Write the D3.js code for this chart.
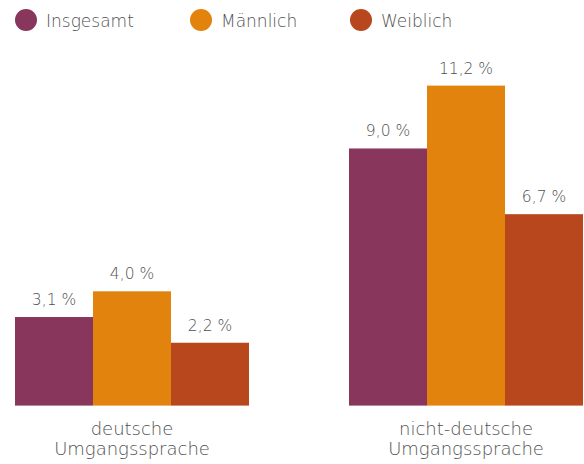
<!DOCTYPE html>
<html>
<head>
<meta charset="utf-8">
<script src="https://cdn.jsdelivr.net/npm/d3@7"></script>
<style>
  html, body { margin: 0; padding: 0; background: #fff; }
  svg text { font-family: "DejaVu Sans", sans-serif; font-weight: 200; }
</style>
</head>
<body>
<svg id="chart" width="584" height="464"></svg>
<script>
const categories = ["deutsche Umgangssprache", "nicht-deutsche Umgangssprache"];
const categoryLines = [["deutsche", "Umgangssprache"], ["nicht-deutsche", "Umgangssprache"]];
const series = ["Insgesamt", "Männlich", "Weiblich"];
const insgesamt = [3.1, 9.0];
const maennlich = [4.0, 11.2];
const weiblich = [2.2, 6.7];
const valueLabels = [["3,1 %", "4,0 %", "2,2 %"], ["9,0 %", "11,2 %", "6,7 %"]];
const colors = ["#88365b", "#e1830c", "#b9471d"];

const seriesValues = [insgesamt, maennlich, weiblich];
const svg = d3.select("#chart");

const x0 = d3.scaleBand().domain(categories).range([15, 583]).paddingInner(100 / 334).paddingOuter(0);
const x1 = d3.scaleBand().domain(series).range([0, x0.bandwidth()]).padding(0);
const y = d3.scaleLinear().domain([0, 12]).range([405.6, 405.6 - 12 * 28.57]);

const data = [];
categories.forEach((c, ci) => {
  series.forEach((s, si) => {
    data.push({ cat: c, ser: s, v: seriesValues[si][ci], label: valueLabels[ci][si], color: colors[si] });
  });
});

svg.append("g").selectAll("rect").data(data).join("rect")
  .attr("x", d => x0(d.cat) + x1(d.ser))
  .attr("y", d => y(d.v))
  .attr("width", x1.bandwidth())
  .attr("height", d => y(0) - y(d.v))
  .attr("fill", d => d.color);

svg.append("g").selectAll("text").data(data).join("text")
  .attr("x", d => x0(d.cat) + x1(d.ser) + x1.bandwidth() / 2)
  .attr("y", d => y(d.v) - 12)
  .attr("text-anchor", "middle")
  .attr("font-size", 15.5)
  .attr("fill", "#505050")
  .text(d => d.label);

const catLines = [];
categories.forEach((c, i) => categoryLines[i].forEach((line, li) => catLines.push({ cat: c, line, li })));
svg.append("g").selectAll("text").data(catLines).join("text")
  .attr("x", d => x0(d.cat) + x0.bandwidth() / 2)
  .attr("y", d => 435 + d.li * 20)
  .attr("text-anchor", "middle")
  .attr("font-size", 18)
  .attr("fill", "#505050")
  .text(d => d.line);

const legendX = [26, 201, 361];
const lg = svg.append("g").selectAll("g").data(series).join("g")
  .attr("transform", (d, i) => `translate(${legendX[i]},20)`);
lg.append("circle").attr("r", 11).attr("fill", (d, i) => colors[i]);
lg.append("text").attr("x", 20).attr("y", 6.5)
  .attr("font-size", 17).attr("fill", "#505050")
  .text(d => d);
</script>
</body>
</html>
